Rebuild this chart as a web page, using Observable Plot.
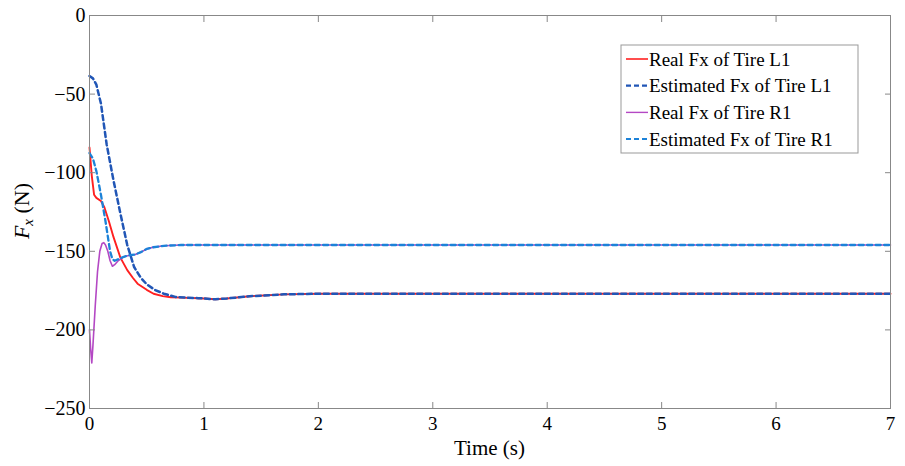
<!DOCTYPE html>
<html><head><meta charset="utf-8">
<script src="https://cdn.jsdelivr.net/npm/d3@7"></script>
<script src="https://cdn.jsdelivr.net/npm/@observablehq/plot@0.6"></script>
<style>body{margin:0;background:#fff}</style>
</head><body><div id="chart"></div>
<script>
const xTicks = [0, 1, 2, 3, 4, 5, 6, 7];
const yTicks = [-250, -200, -150, -100, -50, 0];
const xLabel = "Time (s)";
const seriesNames = ["Real Fx of Tire L1", "Estimated Fx of Tire L1", "Real Fx of Tire R1", "Estimated Fx of Tire R1"];
const seriesColors = ["#ff2020", "#2156b6", "#b448c4", "#1c82d8"];

const tRealL1 = [0, 0.02, 0.04, 0.06, 0.1, 0.13, 0.17, 0.21, 0.27, 0.33, 0.38, 0.42, 0.5, 0.56, 0.64, 0.71, 0.8, 0.9, 1.0, 1.1, 1.2, 1.4, 1.7, 2.0, 3, 4, 5, 6, 7];
const fRealL1 = [-84, -102, -114, -116, -118, -122, -131, -141, -154, -162, -167, -170.6, -174.5, -177, -178.5, -179.2, -179.5, -179.7, -180, -180.5, -180, -178.6, -177.4, -177, -177, -177, -177, -177, -177];

const tEstL1 = [0, 0.03, 0.06, 0.1, 0.15, 0.21, 0.27, 0.33, 0.39, 0.45, 0.5, 0.57, 0.65, 0.75, 0.85, 0.95, 1.05, 1.1, 1.2, 1.4, 1.7, 2.0, 2.5, 3, 4, 5, 6, 7];
const fEstL1 = [-38.5, -40, -44, -56, -82, -105, -126, -146, -160, -167, -171, -174.5, -177, -179, -179.5, -179.8, -180.3, -180.5, -180, -178.6, -177.4, -177, -177, -177, -177, -177, -177, -177];

const tRealR1 = [0, 0.01, 0.02, 0.03, 0.05, 0.07, 0.09, 0.11, 0.125, 0.14, 0.16, 0.18, 0.2, 0.22, 0.25, 0.3, 0.35, 0.4, 0.45, 0.5, 0.55, 0.65, 0.8, 1.0, 1.5, 2, 3, 4, 5, 6, 7];
const fRealR1 = [-200, -212, -221, -210, -185, -163, -150, -145, -144.5, -146, -150, -156, -159.5, -158.5, -156, -153.5, -152.5, -152, -150.5, -148.5, -147.5, -146.5, -146, -146, -146, -146, -146, -146, -146, -146, -146];

const tEstR1 = [0, 0.03, 0.06, 0.1, 0.14, 0.18, 0.2, 0.22, 0.25, 0.3, 0.35, 0.4, 0.45, 0.5, 0.55, 0.65, 0.8, 1.0, 2, 3, 4, 5, 6, 7];
const fEstR1 = [-87.5, -91, -99, -114, -131, -150, -155, -156, -155, -153.5, -152.5, -152, -150.5, -148.5, -147.5, -146.5, -146, -146, -146, -146, -146, -146, -146, -146];

const toRows = (t, f) => t.map((ti, i) => ({t: ti, f: f[i]}));
const realL1 = toRows(tRealL1, fRealL1);
const estL1 = toRows(tEstL1, fEstL1);
const realR1 = toRows(tRealR1, fRealR1);
const estR1 = toRows(tEstR1, fEstR1);

const serif = "'Liberation Serif', 'Times New Roman', 'DejaVu Serif', serif";
const fmt = d => (d < 0 ? "\u2212" + Math.abs(d) : String(d));

const chart = Plot.plot({
  width: 905, height: 466,
  marginLeft: 89, marginRight: 15, marginTop: 15, marginBottom: 58,
  style: {fontFamily: serif, fontSize: "19px", background: "#fff", color: "#000", overflow: "visible"},
  x: {domain: [0, 7]},
  y: {domain: [-250, 0]},
  marks: [
    Plot.line(realL1, {x: "t", y: "f", stroke: seriesColors[0], strokeWidth: 1.9}),
    Plot.line(estL1, {x: "t", y: "f", stroke: seriesColors[1], strokeWidth: 2.5, strokeDasharray: "5,3.5"}),
    Plot.line(realR1, {x: "t", y: "f", stroke: seriesColors[2], strokeWidth: 1.6}),
    Plot.line(estR1, {x: "t", y: "f", stroke: seriesColors[3], strokeWidth: 2.3, strokeDasharray: "5,3.5"}),
    Plot.frame({stroke: "#888", strokeWidth: 1}),
    Plot.axisX({ticks: xTicks, tickSize: -6, tickFormat: () => "", stroke: "#888", label: null}),
    Plot.axisX({ticks: xTicks, anchor: "top", tickSize: -6, tickFormat: () => "", stroke: "#888", label: null}),
    Plot.axisY({ticks: yTicks, tickSize: -6, tickFormat: () => "", stroke: "#888", label: null}),
    Plot.axisY({ticks: yTicks, anchor: "right", tickSize: -6, tickFormat: () => "", stroke: "#888", label: null}),
    Plot.axisX({ticks: xTicks, tickSize: 0, tickPadding: 8, fontSize: 19, tickFormat: fmt, label: null}),
    Plot.axisY({ticks: yTicks, tickSize: 0, tickPadding: 4, fontSize: 20, tickFormat: fmt, label: null})
  ]
});
document.getElementById("chart").appendChild(chart);

const svg = d3.select(chart);
// x-axis label
svg.append("text")
  .attr("x", 489.5).attr("y", 455)
  .attr("text-anchor", "middle")
  .attr("font-family", serif).attr("font-size", 21).attr("fill", "#000")
  .text(xLabel);
// y-axis label with italic F and subscript x
const yl = svg.append("text")
  .attr("transform", "translate(29,211) rotate(-90)")
  .attr("text-anchor", "middle")
  .attr("font-family", serif)
  .attr("font-size", 22)
  .attr("fill", "#000");
yl.append("tspan").attr("font-style", "italic").text("F");
yl.append("tspan").attr("font-style", "italic").attr("font-size", 15).attr("dy", 4).text("x");
yl.append("tspan").attr("dy", -4).text(" (N)");

// legend
const lg = svg.append("g").attr("transform", "translate(621,45)");
lg.append("rect").attr("width", 237).attr("height", 108).attr("fill", "#fff").attr("stroke", "#999");
const widths = [1.6, 2.2, 1.4, 2.0];
const dashes = [null, "5,3", null, "5,3"];
seriesNames.forEach((name, i) => {
  const y = 14 + i * 26.7;
  lg.append("line").attr("x1", 5).attr("x2", 27).attr("y1", y).attr("y2", y)
    .attr("stroke", seriesColors[i]).attr("stroke-width", widths[i])
    .attr("stroke-dasharray", dashes[i]);
  lg.append("text").attr("x", 28).attr("y", y).attr("dy", "0.35em")
    .attr("text-anchor", "start")
    .attr("font-family", serif).attr("font-size", 19).attr("fill", "#000").text(name);
});
</script>
</body></html>
